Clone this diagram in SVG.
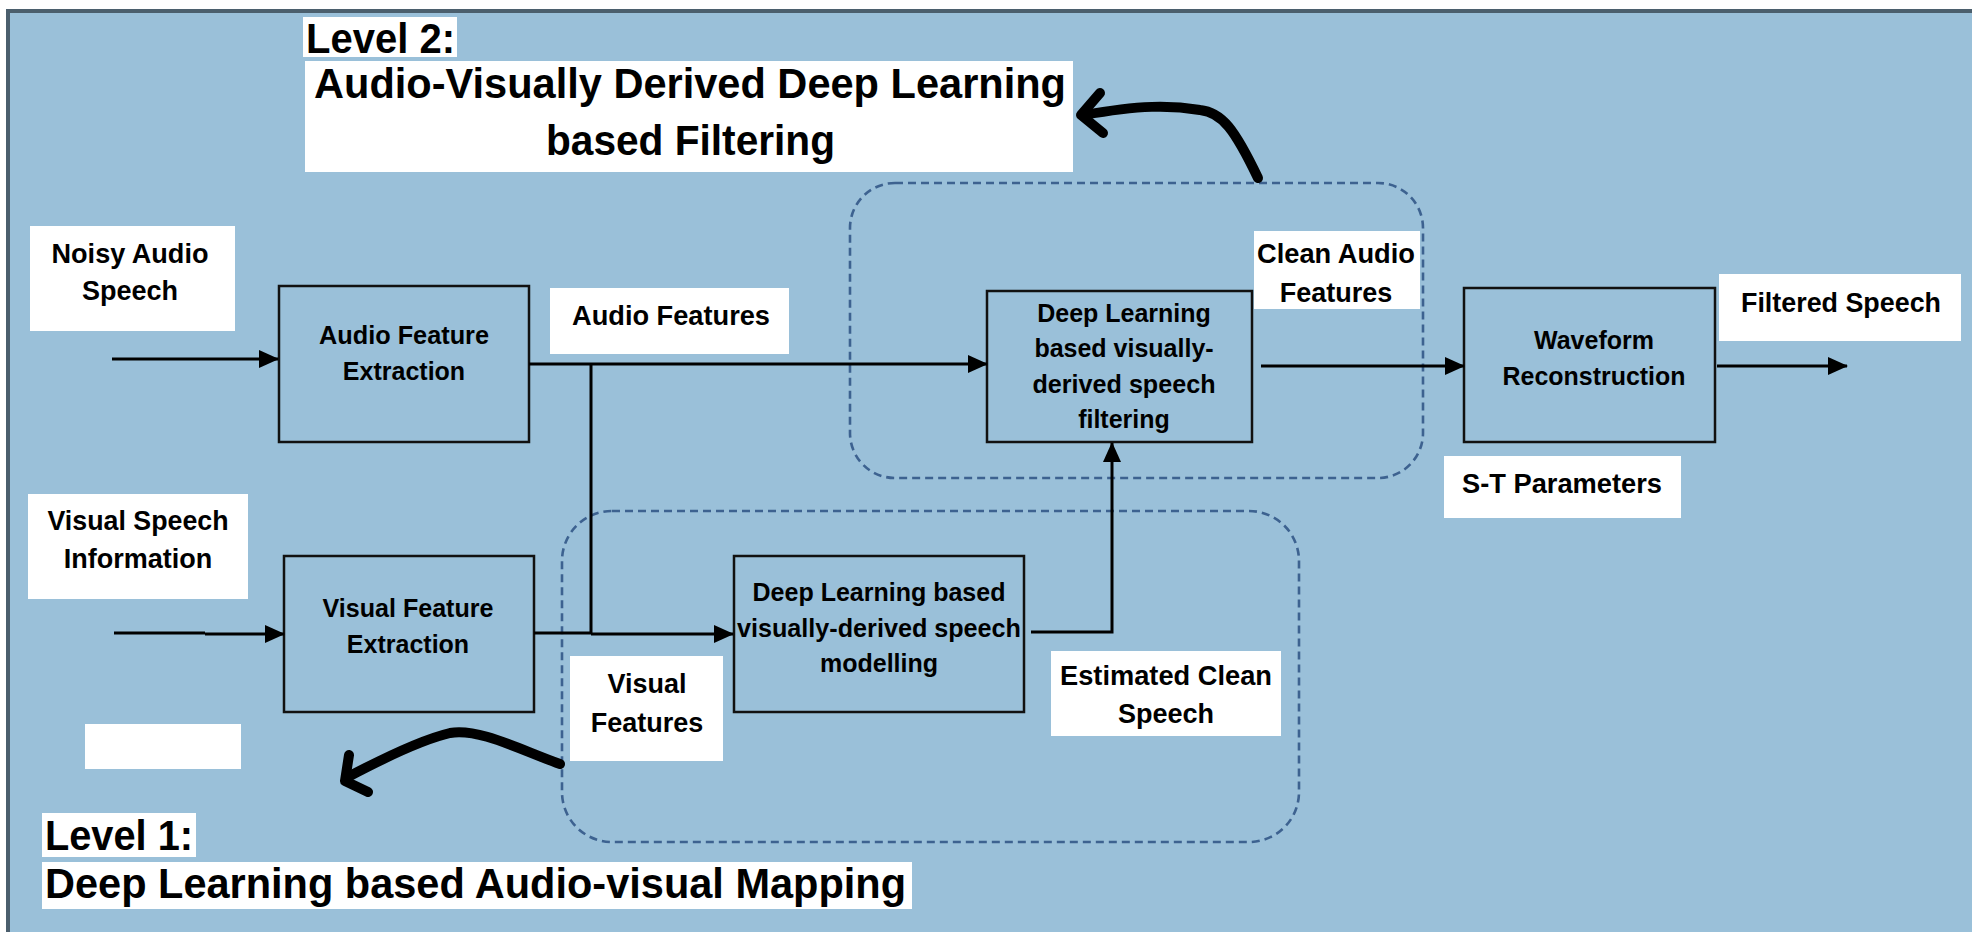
<svg xmlns="http://www.w3.org/2000/svg" width="1972" height="932" viewBox="0 0 1972 932">
<style>
.t{font-family:"Liberation Sans",Arial,sans-serif;font-weight:bold;fill:#000;}
.b{font-size:25px;text-anchor:middle;}
.l{font-size:27px;text-anchor:middle;}
.h{font-size:42px;}
.box{fill:none;stroke:#111;stroke-width:2.5;}
.lab{fill:#fff;}
.dash{fill:none;stroke:#3d6290;stroke-width:2.6;stroke-dasharray:8 5;}
.c{fill:none;stroke:#000;stroke-width:3;}
.hand{fill:none;stroke:#000;stroke-width:10;stroke-linecap:round;stroke-linejoin:round;}
</style>
<defs>
<marker id="ah" markerUnits="userSpaceOnUse" markerWidth="20" markerHeight="18" refX="19" refY="9" orient="auto">
<path d="M0,0 L20,9 L0,18 z" fill="#000"/>
</marker>
</defs>
<rect x="0" y="0" width="1972" height="932" fill="#fff"/>
<rect id="background" x="8" y="11" width="1990" height="950" fill="#9ac0d9" stroke="#4b5f6d" stroke-width="4"/>

<g id="level2-region"><rect class="dash" x="850" y="183" width="573" height="295" rx="45"/></g>
<g id="level1-region"><rect class="dash" x="562" y="511" width="737" height="331" rx="50"/></g>

<g id="level2-title">
<rect class="lab" x="303" y="17" width="154" height="40"/>
<text class="t h" x="306" y="53" textLength="149" lengthAdjust="spacingAndGlyphs">Level 2:</text>
<rect class="lab" x="305" y="61" width="768" height="111"/>
<text class="t h" x="314" y="98" textLength="752" lengthAdjust="spacingAndGlyphs">Audio-Visually Derived Deep Learning</text>
<text class="t h" x="546" y="155" textLength="289" lengthAdjust="spacingAndGlyphs">based Filtering</text>
</g>

<g id="noisy-audio">
<rect class="lab" x="30" y="226" width="205" height="105"/>
<text class="t l" x="130" y="263" textLength="157" lengthAdjust="spacingAndGlyphs">Noisy Audio</text>
<text class="t l" x="130" y="300">Speech</text>
</g>

<g id="audio-feature-extraction">
<rect class="box" x="279" y="286" width="250" height="156"/>
<text class="t b" x="404" y="344" textLength="170" lengthAdjust="spacingAndGlyphs">Audio Feature</text>
<text class="t b" x="404" y="380">Extraction</text>
</g>

<g id="audio-features-label">
<rect class="lab" x="550" y="288" width="239" height="66"/>
<text class="t l" x="671" y="325" textLength="198" lengthAdjust="spacingAndGlyphs">Audio Features</text>
</g>

<g id="dl-filtering">
<rect class="box" x="987" y="291" width="265" height="151"/>
<text class="t b" x="1124" y="322">Deep Learning</text>
<text class="t b" x="1124" y="357">based visually-</text>
<text class="t b" x="1124" y="393" textLength="183" lengthAdjust="spacingAndGlyphs">derived speech</text>
<text class="t b" x="1124" y="428">filtering</text>
</g>

<g id="clean-audio-label">
<rect class="lab" x="1254" y="231" width="166" height="78"/>
<text class="t l" x="1336" y="263" textLength="158" lengthAdjust="spacingAndGlyphs">Clean Audio</text>
<text class="t l" x="1336" y="302">Features</text>
</g>

<g id="waveform">
<rect class="box" x="1464" y="288" width="251" height="154"/>
<text class="t b" x="1594" y="349">Waveform</text>
<text class="t b" x="1594" y="385" textLength="183" lengthAdjust="spacingAndGlyphs">Reconstruction</text>
</g>

<g id="filtered-speech">
<rect class="lab" x="1719" y="274" width="242" height="67"/>
<text class="t l" x="1841" y="312" textLength="200" lengthAdjust="spacingAndGlyphs">Filtered Speech</text>
</g>

<g id="st-parameters">
<rect class="lab" x="1444" y="456" width="237" height="62"/>
<text class="t l" x="1562" y="493" textLength="200" lengthAdjust="spacingAndGlyphs">S-T Parameters</text>
</g>

<g id="visual-speech">
<rect class="lab" x="28" y="494" width="220" height="105"/>
<text class="t l" x="138" y="530" textLength="181" lengthAdjust="spacingAndGlyphs">Visual Speech</text>
<text class="t l" x="138" y="568">Information</text>
</g>

<g id="visual-feature-extraction">
<rect class="box" x="284" y="556" width="250" height="156"/>
<text class="t b" x="408" y="617" textLength="171" lengthAdjust="spacingAndGlyphs">Visual Feature</text>
<text class="t b" x="408" y="653">Extraction</text>
</g>

<g id="dl-modelling">
<rect class="box" x="734" y="556" width="290" height="156"/>
<text class="t b" x="879" y="601">Deep Learning based</text>
<text class="t b" x="879" y="637" textLength="284" lengthAdjust="spacingAndGlyphs">visually-derived speech</text>
<text class="t b" x="879" y="672">modelling</text>
</g>

<g id="visual-features-label">
<rect class="lab" x="570" y="656" width="153" height="105"/>
<text class="t l" x="647" y="693">Visual</text>
<text class="t l" x="647" y="732">Features</text>
</g>

<g id="estimated-clean-label">
<rect class="lab" x="1051" y="651" width="230" height="85"/>
<text class="t l" x="1166" y="685" textLength="212" lengthAdjust="spacingAndGlyphs">Estimated Clean</text>
<text class="t l" x="1166" y="723">Speech</text>
</g>

<g id="blank-box"><rect class="lab" x="85" y="724" width="156" height="45"/></g>

<g id="level1-title">
<rect class="lab" x="42" y="813" width="154" height="44"/>
<text class="t h" x="45" y="850" textLength="148" lengthAdjust="spacingAndGlyphs">Level 1:</text>
<rect class="lab" x="42" y="862" width="870" height="47"/>
<text class="t h" x="45" y="898" textLength="861" lengthAdjust="spacingAndGlyphs">Deep Learning based Audio-visual Mapping</text>
</g>

<g id="connectors">
<path class="c" d="M112,359 H278" marker-end="url(#ah)"/>
<path class="c" d="M529,364 H987" marker-end="url(#ah)"/>
<path class="c" d="M591,364 V634" stroke-width="2.5"/>
<path class="c" d="M534,633 H591" stroke-width="2.5"/>
<path class="c" d="M591,634 H733" stroke-width="5" marker-end="url(#ah)"/>
<path class="c" d="M114,633 H205"/>
<path class="c" d="M205,634 H284" stroke-width="5" marker-end="url(#ah)"/>
<path class="c" d="M1031,632 H1112 V443" marker-end="url(#ah)"/>
<path class="c" d="M1261,366 H1464" marker-end="url(#ah)"/>
<path class="c" d="M1717,366 H1847" marker-end="url(#ah)"/>
<path class="hand" d="M1258,178 C1235,130 1222,112 1200,110 C1170,105 1140,105 1084,115"/>
<path class="hand" d="M1100,93 L1081,115 L1103,133"/>
<path class="hand" d="M560,764 C520,750 480,728 450,733 C420,740 380,760 346,778"/>
<path class="hand" d="M349,755 L345,781 L368,792"/>
</g>
</svg>
